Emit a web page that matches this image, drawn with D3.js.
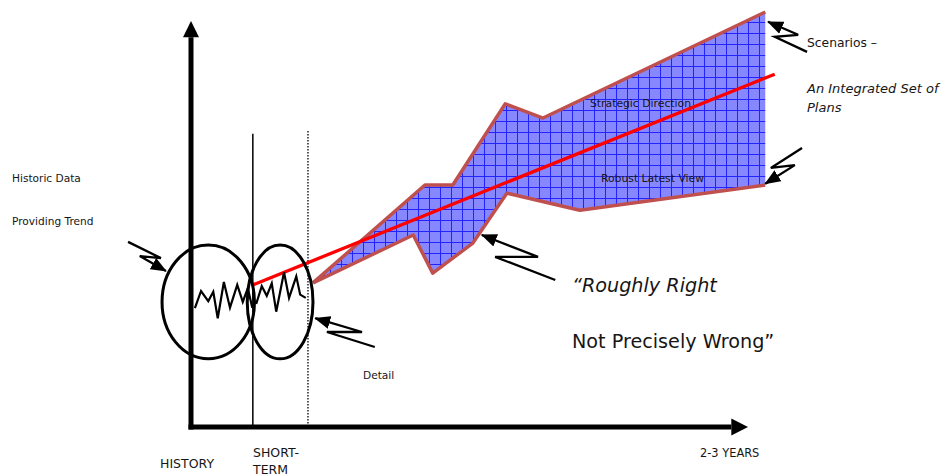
<!DOCTYPE html>
<html>
<head>
<meta charset="utf-8">
<script src="https://cdn.jsdelivr.net/npm/d3@7/dist/d3.min.js"></script>
<style>
  html, body { margin: 0; padding: 0; background: #fff; }
  svg { display: block; }
  text { font-family: "DejaVu Sans", Verdana, sans-serif; fill: #161616; }
</style>
</head>
<body>
<svg id="chart" width="945" height="476"></svg>
<script>
// Planning horizon diagram: history, short term detail and a widening scenario band.
// Units: x = planning time (0 = start of history, 100 = end of axis), y = level (0..100).

const trendLine = [[11.1, 35.0], [104.8, 86.9]];

const bandUpper = [[21.9, 35.5], [42.0, 59.6], [47.0, 59.6], [56.4, 79.6], [63.2, 76.1], [103.1, 102.2]];
const bandLower = [[21.9, 35.5], [39.9, 47.3], [43.4, 37.9], [50.6, 45.3], [56.7, 57.6], [69.8, 53.4], [103.1, 59.6]];

const historicSeries = [[0.7, 29.3], [1.8, 33.5], [3.1, 31.0], [4.0, 33.3], [4.8, 26.8], [5.9, 35.7],
  [7.0, 29.4], [8.3, 35.0], [9.3, 30.8], [10.2, 34.2], [11.0, 29.4]];
const shortTermSeries = [[11.7, 30.3], [12.7, 34.7], [13.6, 32.3], [14.5, 35.4], [15.3, 28.4], [16.7, 38.1],
  [17.6, 31.8], [18.9, 37.1], [19.6, 32.6], [20.6, 31.8]];

// focus ellipses: [cx, cy, rx, ry]
const focusRings = [[3.1, 30.8, 8.3, 14.0], [16.0, 30.8, 5.9, 14.0]];

// period dividers: [x, top y, dashed?]
const dividers = [[11.1, 72.2, false], [21.0, 72.9, true]];

// lightning callouts: start, bend, bend, tip
const callouts = [
  [[-11.3, 45.6], [-5.4, 41.6], [-9.2, 42.1], [-4.5, 38.4]],
  [[33.0, 19.7], [24.4, 23.4], [30.7, 23.4], [22.3, 26.8]],
  [[65.4, 36.2], [54.6, 41.9], [62.3, 41.9], [52.2, 47.3]],
  [[110.6, 92.4], [104.8, 96.1], [109.0, 96.6], [103.6, 99.8]],
  [[109.7, 68.7], [104.1, 63.8], [108.4, 64.5], [103.1, 59.9]]
];

const labels = [
  { t: "Historic Data", x: 12, y: 182, s: 10.6 },
  { t: "Providing Trend", x: 12, y: 225, s: 10.6 },
  { t: "Detail", x: 363, y: 379, s: 10.6 },
  { t: "Strategic Direction", x: 590, y: 107, s: 10.8 },
  { t: "Robust Latest View", x: 601, y: 182, s: 10.8 },
  { t: "Scenarios \u2013", x: 807, y: 47, s: 12.3 },
  { t: "An Integrated Set of", x: 807, y: 93, s: 13, i: true },
  { t: "Plans", x: 807, y: 112, s: 13, i: true },
  { t: "\u201CRoughly Right", x: 572, y: 292, s: 19.2, i: true },
  { t: "Not Precisely Wrong\u201D", x: 572, y: 348, s: 19.2 },
  { t: "HISTORY", x: 160, y: 468, s: 12.5 },
  { t: "SHORT-", x: 253, y: 457, s: 12.5 },
  { t: "TERM", x: 253, y: 474, s: 12.5 },
  { t: "2-3 YEARS", x: 700, y: 457, s: 11.4 }
];

const svg = d3.select("#chart");
const x = d3.scaleLinear().domain([0, 100]).range([191, 748]);
const y = d3.scaleLinear().domain([0, 100]).range([427, 21]);
const line = d3.line().x(d => x(d[0])).y(d => y(d[1]));

// hatched blue fill for the scenario band
const defs = svg.append("defs");
const pat = defs.append("pattern").attr("id", "grid").attr("patternUnits", "userSpaceOnUse")
  .attr("width", 11).attr("height", 11);
pat.append("rect").attr("width", 11).attr("height", 11).attr("fill", "#8787ff");
pat.append("path").attr("d", "M0 0.5H11M0.5 0V11").attr("stroke", "#2323ff").attr("stroke-width", 1);

const head = defs.append("marker").attr("id", "head").attr("viewBox", "0 0 16 13")
  .attr("refX", 15).attr("refY", 6.5).attr("markerWidth", 16).attr("markerHeight", 13)
  .attr("markerUnits", "userSpaceOnUse").attr("orient", "auto");
head.append("path").attr("d", "M0 0L16 6.5L0 13Z").attr("fill", "#000");

// scenario band
const bandPoly = bandUpper.concat(bandLower.slice(1).reverse());
svg.append("path").attr("d", line(bandPoly) + "Z").attr("fill", "url(#grid)");
[bandUpper, bandLower].forEach(edge => {
  svg.append("path").attr("d", line(edge)).attr("fill", "none")
    .attr("stroke", "#c0504d").attr("stroke-width", 3.5).attr("stroke-linejoin", "round");
});

// period dividers
dividers.forEach(([dx, top, dashed]) => {
  svg.append("line").attr("x1", x(dx)).attr("x2", x(dx)).attr("y1", y(top)).attr("y2", y(0))
    .attr("stroke", "#000").attr("stroke-width", dashed ? 1.3 : 1.5)
    .attr("stroke-dasharray", dashed ? "1.5 1.5" : null);
});

// trend line
svg.append("path").attr("d", line(trendLine)).attr("stroke", "#ff0000").attr("stroke-width", 3.3).attr("fill", "none");

// historic and short-term series
[historicSeries, shortTermSeries].forEach(s => {
  svg.append("path").attr("d", line(s)).attr("fill", "none").attr("stroke", "#000")
    .attr("stroke-width", 2.2).attr("stroke-linejoin", "miter");
});

// focus rings
focusRings.forEach(([cx, cy, rx, ry]) => {
  svg.append("ellipse").attr("cx", x(cx)).attr("cy", y(cy))
    .attr("rx", x(rx) - x(0)).attr("ry", y(0) - y(ry))
    .attr("fill", "none").attr("stroke", "#000").attr("stroke-width", 3);
});

// axes with arrow heads
svg.append("line").attr("x1", x(0)).attr("x2", x(0)).attr("y1", y(0) + 2.5).attr("y2", y(96))
  .attr("stroke", "#000").attr("stroke-width", 5);
svg.append("path").attr("d", `M${x(0) - 8},${y(96)}L${x(0)},${y(100)}L${x(0) + 8},${y(96)}Z`).attr("fill", "#000");
svg.append("line").attr("x1", x(0) - 2.5).attr("x2", x(97)).attr("y1", y(0)).attr("y2", y(0))
  .attr("stroke", "#000").attr("stroke-width", 5);
svg.append("path").attr("d", `M${x(97)},${y(0) - 8.5}L${x(100)},${y(0)}L${x(97)},${y(0) + 8.5}Z`).attr("fill", "#000");

// lightning callouts
callouts.forEach(c => {
  svg.append("path").attr("d", line(c)).attr("fill", "none").attr("stroke", "#000")
    .attr("stroke-width", 2.3).attr("stroke-linejoin", "miter").attr("marker-end", "url(#head)");
});

// labels
svg.selectAll("text.lbl").data(labels).join("text").attr("class", "lbl")
  .attr("x", d => d.x).attr("y", d => d.y)
  .style("font-size", d => d.s + "px")
  .style("font-style", d => d.i ? "italic" : "normal")
  .text(d => d.t);
</script>
</body>
</html>
